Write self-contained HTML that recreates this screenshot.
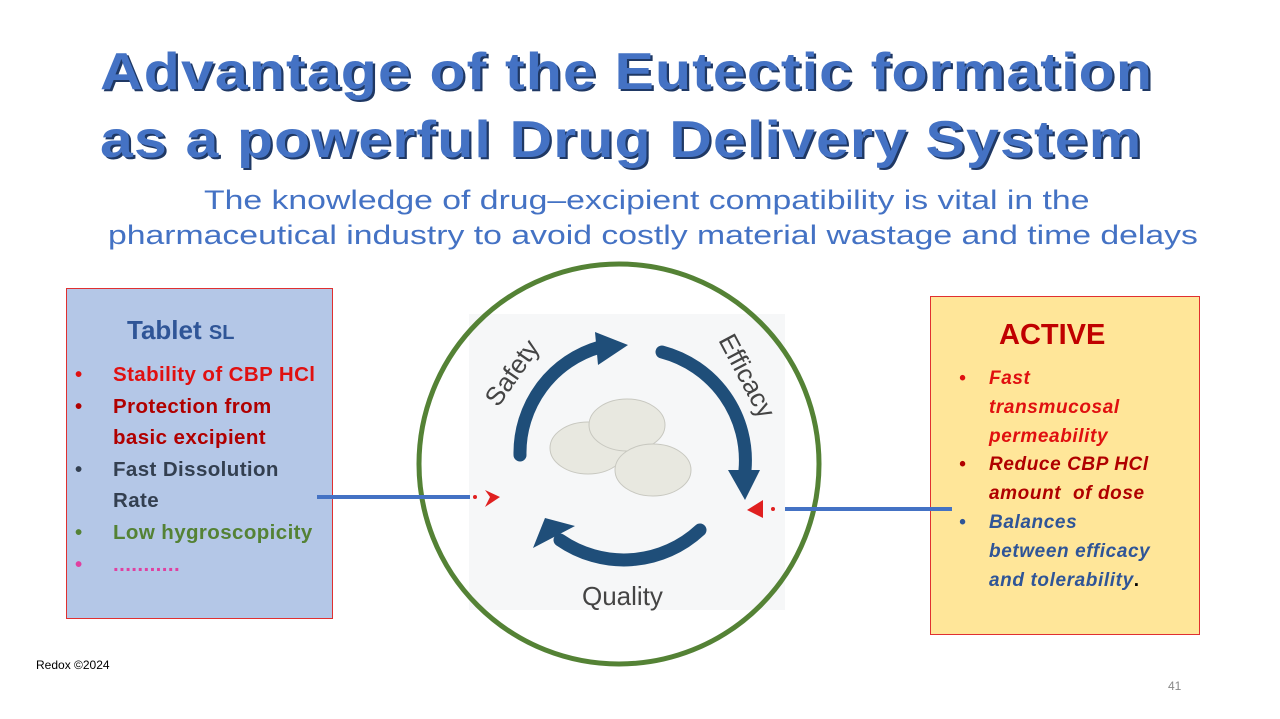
<!DOCTYPE html>
<html><head><meta charset="utf-8"><style>
body{margin:0;width:1280px;height:719px;background:#fff;position:relative;overflow:hidden;font-family:"Liberation Sans",sans-serif}
.t{position:absolute;color:#4472C4;font-weight:bold;font-size:52px;letter-spacing:1px;text-shadow:2px 2px 0 #1F3864;white-space:nowrap;transform:scaleX(1.135);transform-origin:left}
.s{position:absolute;color:#4472C4;font-size:27px;white-space:nowrap;transform:scaleX(1.25);transform-origin:left}
.box{position:absolute;border:1.5px solid #E03030;box-sizing:border-box}
ul{margin:0;padding:0;list-style:none}
li{position:relative;padding-left:46px}
li:before{content:"•";position:absolute;left:8px}
</style></head><body>
<div class="t" style="left:100px;top:42px">Advantage of the Eutectic formation</div>
<div class="t" style="left:100px;top:110px">as a powerful Drug Delivery System</div>
<div class="s" style="left:204px;top:185px">The knowledge of drug–excipient compatibility is vital in the</div>
<div class="s" style="left:108px;top:220px">pharmaceutical industry to avoid costly material wastage and time delays</div>

<div class="box" style="left:66px;top:288px;width:267px;height:331px;background:#B4C7E7">
<div style="position:absolute;left:60px;top:26px;font-weight:bold;font-size:26px;color:#2F5597">Tablet <span style="font-size:20px">SL</span></div>
<ul style="position:absolute;left:0;top:70px;font-weight:bold;font-size:20.5px;letter-spacing:0.4px;line-height:31.6px">
<li style="color:#E01010">Stability of CBP HCl</li>
<li style="color:#B00000">Protection from<br>basic excipient</li>
<li style="color:#333F50">Fast Dissolution<br>Rate</li>
<li style="color:#548235">Low hygroscopicity</li>
<li style="color:#E040A0">...........</li>
</ul></div>

<div class="box" style="left:930px;top:296px;width:270px;height:339px;background:#FFE699">
<div style="position:absolute;left:68px;top:22px;font-weight:bold;font-size:29px;color:#C00000">ACTIVE</div>
<ul style="position:absolute;left:20px;top:68px;font-weight:bold;font-style:italic;font-size:19px;letter-spacing:0.6px;line-height:28.8px">
<li style="color:#E01010;padding-left:38px">Fast<br>transmucosal<br>permeability</li>
<li style="color:#B00000;padding-left:38px">Reduce CBP HCl<br>amount&nbsp; of dose</li>
<li style="color:#2F5597;padding-left:38px">Balances<br>between efficacy<br>and tolerability<span style="color:#000;font-style:normal">.</span></li>
</ul></div>

<svg style="position:absolute;left:0;top:0" width="1280" height="719">
<rect x="469" y="314" width="316" height="296" fill="#F6F7F8"/>
<circle cx="619" cy="464" r="200" fill="none" stroke="#548235" stroke-width="5"/>
<g fill="none" stroke="#1F4E79" stroke-width="13" stroke-linecap="round">
<path d="M520 455 A110 110 0 0 1 600 347"/>
<path d="M662 352 A112 112 0 0 1 745 470"/>
<path d="M700 530 A112 112 0 0 1 560 540"/>
</g>
<g fill="#1F4E79">
<polygon points="595,332 628,345 598,365"/>
<polygon points="728,470 760,470 745,500"/>
<polygon points="575,526 545,518 533,548"/>
</g>
<g fill="#E8E8E0" stroke="#C8C8C0">
<ellipse cx="588" cy="448" rx="38" ry="26"/>
<ellipse cx="627" cy="425" rx="38" ry="26"/>
<ellipse cx="653" cy="470" rx="38" ry="26"/>
</g>
<g font-family="Liberation Sans,sans-serif" font-size="26" fill="#444">
<text x="0" y="0" transform="translate(498,408) rotate(-55)">Safety</text>
<text x="0" y="0" transform="translate(718,340) rotate(62)">Efficacy</text>
<text x="582" y="605">Quality</text>
</g>
<line x1="317" y1="497" x2="470" y2="497" stroke="#4472C4" stroke-width="4"/>
<line x1="785" y1="509" x2="952" y2="509" stroke="#4472C4" stroke-width="4"/>
<polygon points="485,490 500,497 485,507 490,497" fill="#E02020"/>
<circle cx="475" cy="497" r="2" fill="#E02020"/>
<polygon points="763,500 747,510 763,518" fill="#E02020"/>
<circle cx="773" cy="509" r="2" fill="#E02020"/>
</svg>
<div style="position:absolute;left:36px;top:658px;font-size:12px;color:#000">Redox ©2024</div>
<div style="position:absolute;left:1168px;top:679px;font-size:12px;color:#888">41</div>
</body></html>
